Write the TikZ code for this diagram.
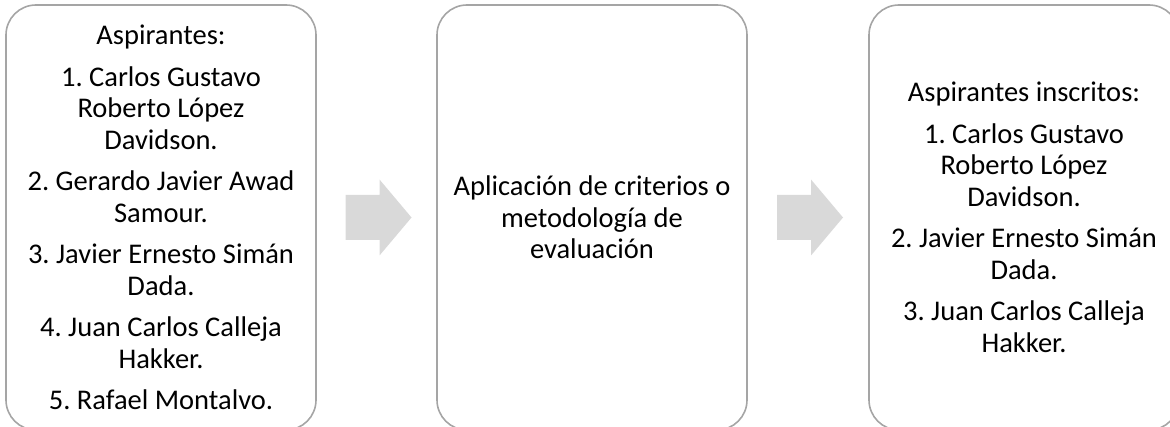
\documentclass[tikz,border=0pt]{standalone}
\usepackage{fontspec}
\setmainfont{Carlito}
\usetikzlibrary{calc}

\definecolor{boxgray}{RGB}{165,165,165}
\definecolor{arrowgray}{RGB}{217,217,217}

\tikzset{
  stage/.style={draw=boxgray, line width=1.6pt, rounded corners=30pt,
    minimum width=310pt, minimum height=425pt, inner sep=0pt,
    align=flush center, text width=304pt, font=\fontsize{28.5}{31.5}\selectfont\frenchspacing},
  blockarrow/.style={fill=arrowgray}
}

\begin{document}
\begin{tikzpicture}[x=1pt, y=1pt]
      \useasboundingbox (0,0) rectangle (1170,-427);

      \node[stage] (aspirantes) at (161,-217.5) {Aspirantes:\\[10pt]
        1. Carlos Gustavo\\ Roberto López\\ Davidson.\\[10pt]
        2. Gerardo Javier Awad\\ Samour.\\[10pt]
        3. Javier Ernesto Simán\\ Dada.\\[10pt]
        4. Juan Carlos Calleja\\ Hakker.\\[10pt]
        5. Rafael Montalvo.};
      \node[stage] (criterios) at (592,-217.5) {Aplicación de criterios o\\ metodología de\\ evaluación};
      \node[stage] (inscritos) at (1024,-217.5) {Aspirantes inscritos:\\[10pt]
        1. Carlos Gustavo\\ Roberto López\\ Davidson.\\[10pt]
        2. Javier Ernesto Simán\\ Dada.\\[10pt]
        3. Juan Carlos Calleja\\ Hakker.};

      % block arrows between the stages
      \coordinate (a1) at ($(aspirantes.east)!0.5!(criterios.west)$);
      \coordinate (a2) at ($(criterios.east)!0.5!(inscritos.west)$);
      \foreach \c in {a1, a2}
        \fill[blockarrow] ($(\c)+(-31,-22.5)$) -- ++(34,0) -- ++(0,-15.5) -- ++(32,38)
          -- ++(-32,38) -- ++(0,-15.5) -- ++(-34,0) -- cycle;
\end{tikzpicture}
\end{document}
